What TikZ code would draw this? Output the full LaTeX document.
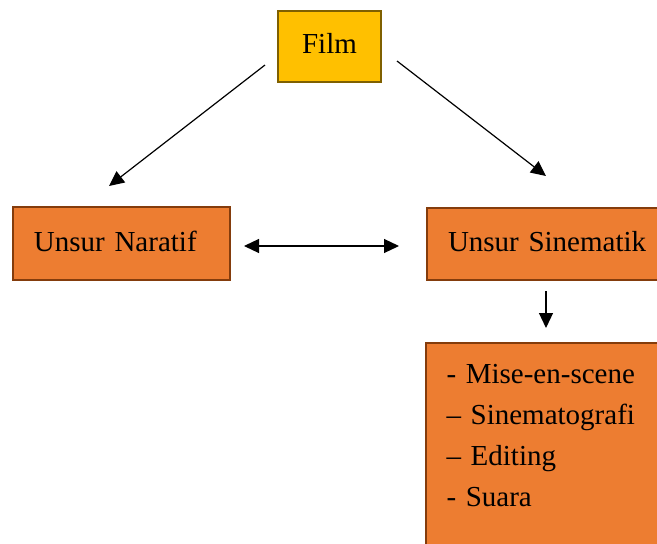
\documentclass[tikz,border=0pt]{standalone}
\usepackage{fontspec}
\setmainfont{Liberation Serif}
\usetikzlibrary{arrows.meta}
\definecolor{orangefill}{HTML}{ED7D31}
\definecolor{orangeline}{HTML}{843C0C}
\definecolor{goldfill}{HTML}{FFC000}
\definecolor{goldline}{HTML}{7F6000}
\tikzset{
  box/.style={draw=orangeline, fill=orangefill, line width=2pt, rectangle,
    inner xsep=21pt, inner ysep=0pt, align=left,
    font=\fontsize{29}{41}\selectfont},
  filmbox/.style={draw=goldline, fill=goldfill, line width=2pt, rectangle,
    inner sep=0pt, minimum width=103pt, minimum height=71pt,
    font=\fontsize{29}{35}\selectfont},
  arr/.style={line width=1.2pt, -{Triangle[length=15pt,width=14pt]}},
  dblarr/.style={line width=1.2pt, {Triangle[length=15pt,width=14pt]}-{Triangle[length=15pt,width=14pt]}}
}
\begin{document}
\begin{tikzpicture}[x=1pt,y=-1pt]
\useasboundingbox (0,0) rectangle (657,544);
\clip (0,0) rectangle (657,544);
\node[filmbox] (film) at (329.5,46.5) {\raisebox{6pt}{Film}};
\node[box, anchor=north west, minimum width=217pt, minimum height=73pt, text width=175pt] (naratif) at (12,206) {\raisebox{5pt}{Unsur Naratif}};
\node[box, anchor=north west, minimum width=280pt, minimum height=72pt, text width=238pt] (sinematik) at (426,207) {\raisebox{6pt}{Unsur Sinematik}};
\node[box, anchor=north west, minimum width=280pt, text width=238pt, inner ysep=21pt, anchor=north west] (list) at (424.5,342)
  {- Mise-en-scene\\ – Sinematografi\\ – Editing\\ - Suara\\[100pt]\mbox{}};
\coordinate (fl) at (265,65);
\coordinate (nt) at (109,186);
\coordinate (fr) at (397,61);
\coordinate (st) at (546,176);
\coordinate (nr) at (244,246);
\coordinate (sl) at (399,246);
\coordinate (sb) at (546,291);
\coordinate (lt) at (546,328);
\draw[arr] (fl) -- (nt);
\draw[arr] (fr) -- (st);
\draw[dblarr] (nr) -- (sl);
\draw[arr] (sb) -- (lt);
\end{tikzpicture}
\end{document}
